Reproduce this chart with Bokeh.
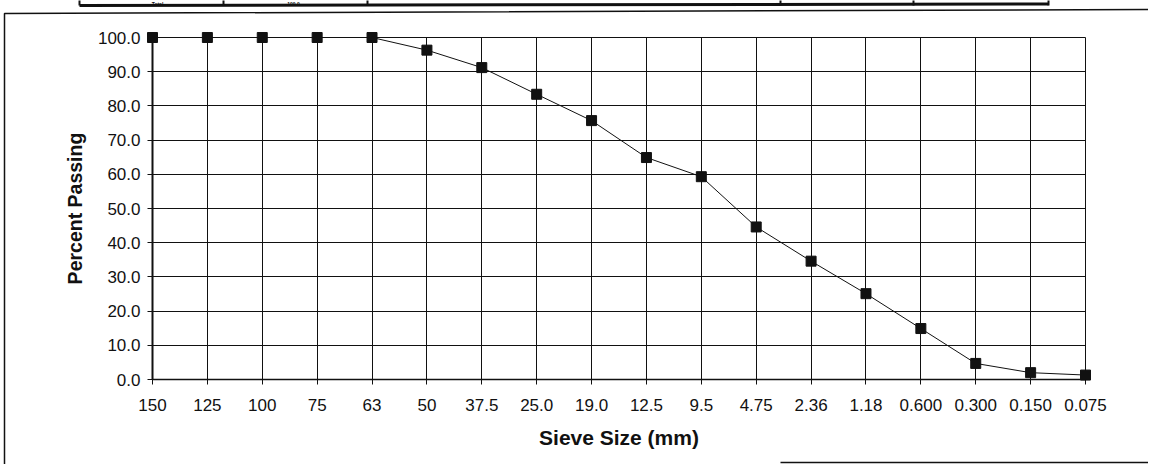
from bokeh.plotting import figure
from bokeh.models import Range1d, FixedTicker, NumeralTickFormatter, ColumnDataSource
from bokeh.core.properties import value
from bokeh.embed import file_html
from bokeh.resources import INLINE

# ---- data ----
sieve_labels = ["150", "125", "100", "75", "63", "50", "37.5", "25.0", "19.0",
                "12.5", "9.5", "4.75", "2.36", "1.18", "0.600", "0.300", "0.150", "0.075"]
percent_passing = [100.0, 100.0, 100.0, 100.0, 100.0, 96.3, 91.2, 83.4, 75.7,
                   64.9, 59.3, 44.6, 34.6, 25.1, 14.9, 4.7, 2.0, 1.3]
y_ticks = [0, 10, 20, 30, 40, 50, 60, 70, 80, 90, 100]
table_texts = ["Total", "100.0"]

positions = list(range(len(sieve_labels)))
src = ColumnDataSource(dict(x=positions, y=percent_passing, label=sieve_labels))

FONT = "Liberation Sans"
INK = "#111111"

# ---- layout (canvas pixels) ----
W, H = 1148, 464
LEFT, TOP, FW, FH = 152, 37, 933, 342

p = figure(width=W, height=H,
           x_range=Range1d(positions[0], positions[-1]),
           y_range=Range1d(y_ticks[0], y_ticks[-1]),
           output_backend="svg", toolbar_location=None,
           min_border_left=LEFT, min_border_right=W - LEFT - FW,
           min_border_top=TOP, min_border_bottom=H - TOP - FH)

# pixel ranges for decorative scan elements (outer box, cut-off table)
p.extra_x_ranges = {"px": Range1d(LEFT, LEFT + FW)}
p.extra_y_ranges = {"px": Range1d(TOP + FH, TOP)}

p.background_fill_color = "white"
p.border_fill_color = "white"
p.outline_line_color = INK
p.outline_line_width = 1

# grids
for g in (p.xgrid, p.ygrid):
    g.grid_line_color = INK
    g.grid_line_width = 1
    g.grid_line_alpha = 1.0
p.xgrid.ticker = FixedTicker(ticks=positions)
p.ygrid.ticker = FixedTicker(ticks=y_ticks)

# x axis
xa = p.xaxis[0]
xa.ticker = FixedTicker(ticks=positions)
xa.major_label_overrides = {i: lab for i, lab in zip(positions, sieve_labels)}
xa.axis_label = "Sieve Size (mm)"
xa.axis_label_text_font = FONT
xa.axis_label_text_font_style = "bold"
xa.axis_label_text_font_size = "21px"
xa.axis_label_text_color = INK
xa.axis_label_standoff = 12
xa.major_label_text_font = FONT
xa.major_label_text_font_size = "17px"
xa.major_label_text_color = INK
xa.major_label_standoff = 14
xa.major_tick_out = 5
xa.major_tick_in = 0
xa.minor_tick_out = 0
xa.minor_tick_in = 0
xa.axis_line_color = INK
xa.axis_line_width = 1.5
xa.major_tick_line_color = INK

# y axis
ya = p.yaxis[0]
ya.ticker = FixedTicker(ticks=y_ticks)
ya.formatter = NumeralTickFormatter(format="0.0")
ya.axis_label = "Percent Passing"
ya.axis_label_text_font = FONT
ya.axis_label_text_font_style = "bold"
ya.axis_label_text_font_size = "19.5px"
ya.axis_label_text_color = INK
ya.axis_label_standoff = 9
ya.major_label_text_font = FONT
ya.major_label_text_font_size = "17px"
ya.major_label_text_color = INK
ya.major_label_standoff = 7
ya.major_tick_out = 5
ya.major_tick_in = 0
ya.minor_tick_out = 0
ya.minor_tick_in = 0
ya.axis_line_color = INK
ya.axis_line_width = 2
ya.major_tick_line_color = INK

# curve
p.line("x", "y", source=src, line_color=INK, line_width=1)
sq = p.scatter("x", "y", source=src, marker="square", size=10,
               fill_color=INK, line_color=INK)
sq.level = "overlay"

# ---- scan decorations in pixel space ----
box_xs = [[4, 4, W], [780, W]]
box_ys = [[H, 13, 9], [H - 2, H - 2]]
bx = p.multi_line(box_xs, box_ys, x_range_name="px", y_range_name="px",
                  line_color=INK, line_width=1.5)
bx.level = "overlay"

tbl_bottom = p.line([79, 1048], [5, 3.5], x_range_name="px", y_range_name="px",
                    line_color=INK, line_width=3)
tbl_bottom.level = "overlay"
tbl_vx = [[x, x] for x in (79, 223, 367, 780, 913, 1048)]
tbl_vy = [[0, 5] for _ in tbl_vx]
tv = p.multi_line(tbl_vx, tbl_vy, x_range_name="px", y_range_name="px",
                  line_color=INK, line_width=2)
tv.level = "overlay"
tt = p.text(x=[157, 293], y=[3.6, 3.6], text=table_texts, x_range_name="px", y_range_name="px",
            text_font=value(FONT), text_font_size="5px", text_font_style="bold",
            text_align="center", text_baseline="alphabetic", text_color=INK)
tt.level = "overlay"

open("out.html", "w").write(file_html(p, INLINE))
